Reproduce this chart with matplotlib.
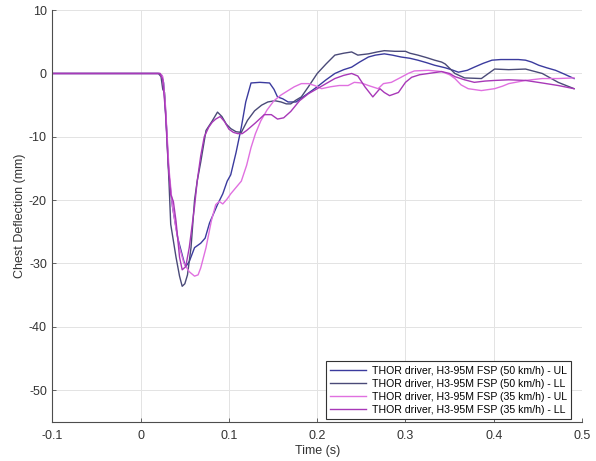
import matplotlib
matplotlib.use('Agg')
import matplotlib.pyplot as plt

plt.rcParams['font.family'] = ['Liberation Sans', 'DejaVu Sans']
plt.rcParams['font.size'] = 9
plt.rcParams['axes.unicode_minus'] = False

# THOR driver, H3-95M FSP (50 km/h) - UL
t_50ul = [-0.1, 0.021, 0.024, 0.026, 0.029, 0.032, 0.036, 0.042, 0.049, 0.051, 0.055, 0.061,
          0.068, 0.073, 0.078, 0.087, 0.093, 0.098, 0.102, 0.108, 0.114, 0.119, 0.125, 0.135,
          0.146, 0.151, 0.155, 0.161, 0.167, 0.176, 0.186, 0.2, 0.21, 0.22, 0.23, 0.239, 0.248,
          0.258, 0.266, 0.276, 0.285, 0.295, 0.305, 0.314, 0.324, 0.333, 0.345, 0.352, 0.36,
          0.37, 0.378, 0.388, 0.398, 0.408, 0.417, 0.428, 0.436, 0.443, 0.451, 0.46, 0.47,
          0.48, 0.491]
d_50ul = [0, 0, -0.3, -1.5, -8, -16, -21, -26, -29.7, -30.5, -29.7, -27.5,
          -26.8, -26, -23.6, -20.7, -19, -17, -16, -12.5, -8.5, -4.5, -1.5, -1.4,
          -1.5, -2.5, -3.7, -4, -4.5, -4.5, -3.5, -2.1, -1, 0, 0.6, 1, 1.8,
          2.6, 2.9, 3.1, 2.9, 2.6, 2.4, 2.1, 1.7, 1.3, 0.9, 0.6, 0.2,
          0.5, 1.0, 1.6, 2.1, 2.2, 2.2, 2.2, 2.1, 1.8, 1.3, 0.9, 0.5,
          -0.1, -0.8]

# THOR driver, H3-95M FSP (50 km/h) - LL
t_50ll = [-0.1, 0.020, 0.023, 0.025, 0.027, 0.029, 0.032, 0.034, 0.040, 0.044, 0.047, 0.050,
          0.053, 0.057, 0.061, 0.064, 0.068, 0.074, 0.081, 0.087, 0.092, 0.097, 0.102, 0.108,
          0.114, 0.121, 0.129, 0.137, 0.144, 0.152, 0.159, 0.165, 0.170, 0.176, 0.182, 0.190,
          0.200, 0.210, 0.220, 0.230, 0.239, 0.246, 0.258, 0.268, 0.276, 0.288, 0.300, 0.305,
          0.314, 0.324, 0.333, 0.341, 0.345, 0.356, 0.367, 0.386, 0.401, 0.417, 0.436, 0.455,
          0.473, 0.491]
d_50ll = [0, 0, -0.5, -2.5, -3, -8, -17, -23.8, -29, -32, -33.6, -33.2,
          -31.8, -27.5, -20, -17, -14, -9, -7.5, -6.1, -6.8, -8, -8.7, -9.2,
          -9.3, -7.4, -5.9, -5, -4.5, -4.3, -4.5, -4.8, -4.8, -4.2, -3.7, -2.1,
          0, 1.5, 2.9, 3.2, 3.4, 2.9, 3.1, 3.4, 3.6, 3.5, 3.5, 3.2,
          2.9, 2.5, 2.1, 1.8, 1.5, 0, -0.7, -0.8, 0.7, 0.6, 0.7, 0,
          -1.4, -2.4]

# THOR driver, H3-95M FSP (35 km/h) - UL
t_35ul = [-0.1, 0.022, 0.025, 0.028, 0.032, 0.036, 0.040, 0.044, 0.049, 0.055, 0.061, 0.065,
          0.068, 0.074, 0.08, 0.085, 0.089, 0.093, 0.098, 0.102, 0.108, 0.114, 0.12, 0.125,
          0.13, 0.136, 0.143, 0.151, 0.159, 0.167, 0.174, 0.182, 0.19, 0.197, 0.205, 0.215,
          0.225, 0.235, 0.242, 0.25, 0.258, 0.269, 0.275, 0.284, 0.295, 0.303, 0.31, 0.326,
          0.341, 0.35, 0.356, 0.363, 0.371, 0.386, 0.401, 0.41, 0.417, 0.436, 0.455, 0.473,
          0.491]
d_35ul = [0, 0, -0.5, -5, -15, -21, -24.5, -27.5, -30, -31.3, -32, -31.8,
          -30.7, -27.5, -23.3, -20.7, -20.2, -20.6, -19.8, -19, -18, -17, -14.5, -11.7,
          -9.5, -7.5, -5.8, -4.3, -3.4, -2.7, -2.1, -1.6, -1.6, -1.9, -2.4, -2.1,
          -1.9, -1.9, -1.4, -1.5, -1.9, -2.4, -1.6, -1.4, -0.6, 0, 0.4, 0.5,
          0.3, -0.2, -0.8, -1.8, -2.4, -2.7, -2.4, -2.0, -1.6, -1.1, -0.8, -0.8,
          -0.7]

# THOR driver, H3-95M FSP (35 km/h) - LL
t_35ll = [-0.1, 0.022, 0.025, 0.028, 0.031, 0.034, 0.037, 0.040, 0.044, 0.047, 0.051, 0.055,
          0.061, 0.064, 0.068, 0.072, 0.077, 0.081, 0.085, 0.090, 0.095, 0.1, 0.105, 0.11,
          0.115, 0.12, 0.13, 0.14, 0.148, 0.155, 0.162, 0.17, 0.18, 0.19, 0.2, 0.21,
          0.22, 0.23, 0.239, 0.246, 0.254, 0.263, 0.271, 0.276, 0.282, 0.292, 0.3, 0.307,
          0.316, 0.326, 0.341, 0.35, 0.356, 0.367, 0.378, 0.39, 0.401, 0.417, 0.436, 0.455,
          0.473, 0.491]
d_35ll = [0, 0, -1, -6, -14, -19.1, -20.2, -23.3, -29, -31, -30.5, -27.5,
          -21, -17, -13, -10, -8.5, -7.7, -7.2, -6.8, -7.6, -8.8, -9.3, -9.5,
          -9.5, -9, -7.8, -6.5, -6.5, -7.2, -7, -6, -4.3, -3.2, -2.4, -1.6,
          -0.8, -0.3, 0, -0.4, -2.1, -3.7, -2.4, -3, -3.5, -3, -1.4, -0.6,
          -0.2, 0, 0.3, 0, -0.5, -1, -1.4, -1.2, -1.1, -1, -1.1, -1.5,
          -1.9, -2.4]

labels = ['THOR driver, H3-95M FSP (50 km/h) - UL',
          'THOR driver, H3-95M FSP (50 km/h) - LL',
          'THOR driver, H3-95M FSP (35 km/h) - UL',
          'THOR driver, H3-95M FSP (35 km/h) - LL']
colors = ['#3b3b9e', '#4a4a78', '#e070e0', '#a838b8']

x_ticks = [-0.1, 0, 0.1, 0.2, 0.3, 0.4, 0.5]
x_tick_labels = ['-0.1', '0', '0.1', '0.2', '0.3', '0.4', '0.5']
y_ticks = [-50, -40, -30, -20, -10, 0, 10]

fig = plt.figure(figsize=(5.96, 4.61), dpi=100)
ax = fig.add_axes([0.088, 0.085, 0.8885, 0.893])

series = [(t_50ul, d_50ul), (t_50ll, d_50ll), (t_35ul, d_35ul), (t_35ll, d_35ll)]
for (t, d), lab, c in zip(series, labels, colors):
    ax.plot(t, d, color=c, linewidth=1.0, label=lab)

ax.set_xlim(-0.1, 0.5)
ax.set_ylim(-55, 10)
ax.set_xticks(x_ticks)
ax.set_xticklabels(x_tick_labels)
ax.set_yticks(y_ticks)
ax.grid(True, color='#e3e3e3', linewidth=0.7)
ax.set_axisbelow(True)

for s in ['top', 'right']:
    ax.spines[s].set_visible(False)
for s in ['left', 'bottom']:
    ax.spines[s].set_color('#4d4d4d')
    ax.spines[s].set_linewidth(0.8)
ax.tick_params(direction='in', length=3, width=0.6, colors='#4d4d4d', labelcolor='#333333')
ax.tick_params(axis='x', pad=6)
ax.tick_params(axis='y', pad=4)

ax.set_xlabel('Time (s)', color='#333333', labelpad=2)
ax.set_ylabel('Chest Deflection (mm)', color='#333333', labelpad=2)

leg = ax.legend(loc='lower right', bbox_to_anchor=(0.979, 0.006), borderaxespad=0,
                fancybox=False, framealpha=1, edgecolor='#333333', handlelength=3.4,
                handletextpad=0.5, labelspacing=0.3, borderpad=0.4, fontsize=7.6)
leg.get_frame().set_linewidth(0.8)

fig.savefig('out.png', dpi=100)
